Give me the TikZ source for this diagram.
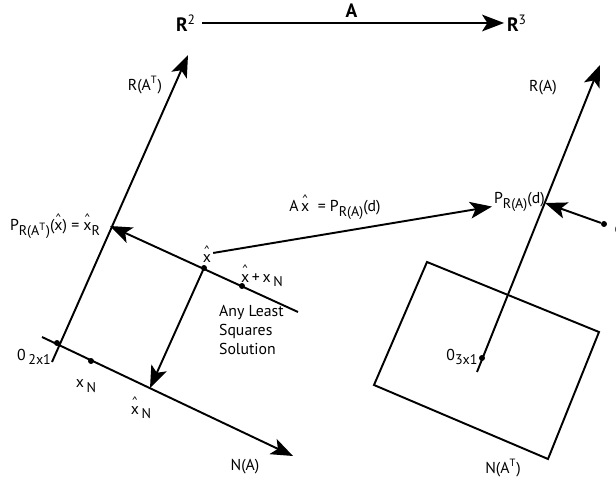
\documentclass[tikz,border=0pt]{standalone}
\usepackage{fontspec}
\setmainfont{PT Sans}
\usetikzlibrary{arrows.meta}
\newcommand{\hatx}{\vbox{\offinterlineskip\halign{\hfil##\hfil\cr{\scriptsize\textasciicircum}\cr\noalign{\kern0.3pt}x\cr}}}
\newcommand{\lowidx}[1]{\raisebox{-0.55ex}{\footnotesize #1}}

\begin{document}
\begin{tikzpicture}[x=0.02cm, y=-0.02cm, font=\fontsize{9}{11}\selectfont,
  >={Stealth[length=12.5pt, width=9.5pt, inset=3pt]},
  axis/.style={->, line width=1.1pt},
  dot/.style={circle, fill, inner sep=0pt, minimum size=3.4pt},
  lbl/.style={inner sep=1pt},
  space/.style={font=\fontsize{11}{13}\selectfont\bfseries, inner sep=1.5pt}]
  \useasboundingbox (0,0) rectangle (616,483);
  % the map A from R^2 to R^3
  \node[space] (R2) at (186,23) {R\textsuperscript{\mdseries 2}};
  \node[space] (R3) at (517,23) {R\textsuperscript{\mdseries 3}};
  \draw[axis, shorten <=2pt] (R2) -- node[space, above=1pt] {A} (R3);

  % left: row space and null space of A
  \coordinate (rtTail) at (52,362);
  \coordinate (rtTip) at (188,55);
  \coordinate (naTail) at (42,337);
  \coordinate (naTip) at (293,456);
  \coordinate (xR) at (110,226);
  \coordinate (lsEnd) at (298,312);
  \coordinate (xNhat) at (150,388);
  \draw[axis] (rtTail) -- (rtTip);
  \draw[axis] (naTail) -- (naTip);
  \draw[axis] (lsEnd) -- (xR);
  \node[dot] (o2) at (57,343) {};
  \node[dot] (xN) at (91,361) {};
  \node[dot] (xh) at (204,268) {};
  \node[dot] (xhN) at (242,286) {};
  \draw[axis] (xh.center) -- (xNhat);

  \node[lbl] at (145,85) {R(A\textsuperscript{T})};
  \node[lbl] at (55,226) {P\lowidx{R(A\textsuperscript{T})}(\hatx) = \hatx\lowidx{R}};
  \node[lbl] (xhl) at (207,254) {\hatx};
  \node[lbl] at (262,276) {\hatx\,+\,x\,\lowidx{N}};
  \node[lbl, align=left, anchor=west] at (217,330) {Any Least\\Squares\\Solution};
  \node[lbl] at (34,357) {0\,\lowidx{2x1}};
  \node[lbl] at (86,386) {x\,\lowidx{N}};
  \node[lbl] at (141,408) {\hatx\,\lowidx{N}};
  \node[lbl] at (245,467) {N(A)};

  % right: column space and left null space
  \coordinate (raTail) at (477,372);
  \coordinate (raTip) at (600,65);
  \coordinate (Pd) at (545,203);
  \draw[line width=1.1pt] (427,262) -- (599,332) -- (548,459) -- (374,385) -- cycle;
  \draw[axis] (raTail) -- (raTip);
  \node[dot] (o3) at (482,358) {};
  \node[dot] (d) at (604,224) {};
  \draw[axis] (d) -- (Pd);
  \node[lbl] at (619,228) {d};

  \node[lbl, anchor=west] (pdl) at (492,202) {P\lowidx{R(A)}(d)};
  \draw[axis] (xhl) -- (pdl);
  \node[lbl] at (335,207) {A\,\hatx\ \ =\ P\lowidx{R(A)}(d)};
  \node[lbl] at (543,88) {R(A)};
  \node[lbl] at (462,357) {0\lowidx{3x1}};
  \node[lbl] at (503,468) {N(A\textsuperscript{T})};
\end{tikzpicture}
\end{document}
